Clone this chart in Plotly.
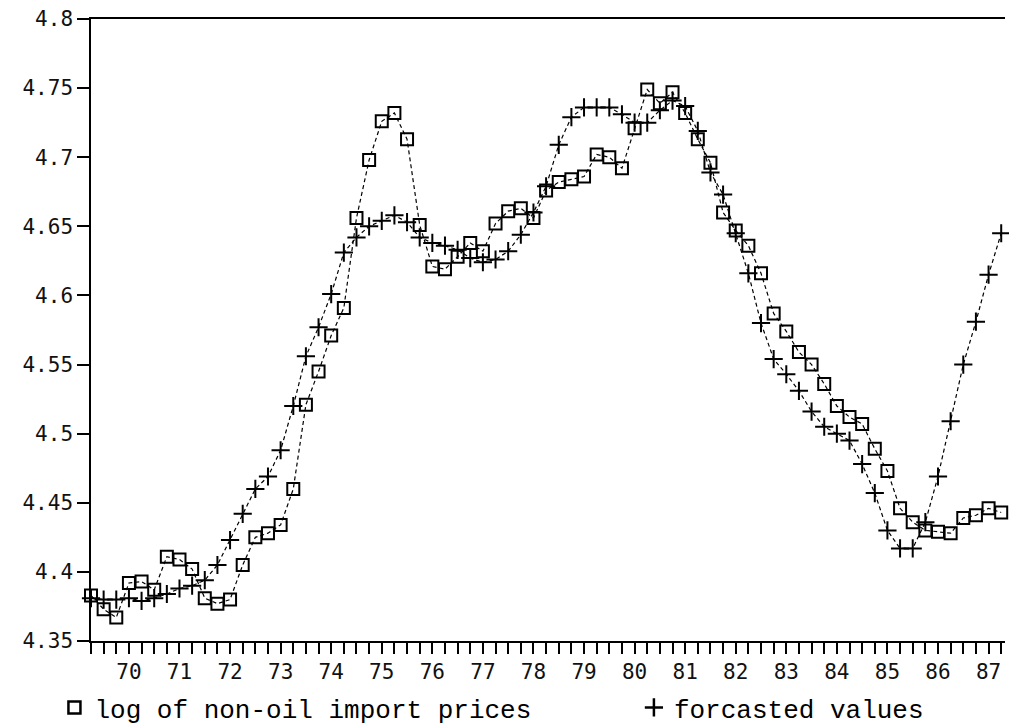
import plotly.graph_objects as go

# quarters 1969Q2 .. 1987Q2
quarters = [f"{y}Q{q}" for y in range(1969, 1988) for q in range(1, 5)][1:74]

year_labels = ["70", "71", "72", "73", "74", "75", "76", "77", "78",
               "79", "80", "81", "82", "83", "84", "85", "86", "87"]

actual = [4.383, 4.373, 4.367, 4.392, 4.393, 4.387, 4.411, 4.409, 4.402, 4.381,
          4.377, 4.380, 4.405, 4.425, 4.428, 4.434, 4.460, 4.521, 4.545, 4.571,
          4.591, 4.656, 4.698, 4.726, 4.732, 4.713, 4.651, 4.621, 4.619,
          4.628, 4.638, 4.632, 4.652, 4.661, 4.663, 4.656, 4.676, 4.682, 4.684,
          4.686, 4.702, 4.700, 4.692, 4.721, 4.749, 4.739, 4.747, 4.732, 4.713,
          4.696, 4.660,
          4.647, 4.636, 4.616, 4.587, 4.574, 4.559, 4.550, 4.536, 4.520, 4.512,
          4.507, 4.489,
          4.473, 4.446, 4.436, 4.430, 4.429, 4.428, 4.439, 4.441, 4.446, 4.443]

forecast = [4.381, 4.380, 4.380, 4.381, 4.379, 4.381, 4.384, 4.388, 4.390, 4.394,
            4.405, 4.423,
            4.442, 4.460, 4.469, 4.488, 4.520,
            4.556, 4.577, 4.601, 4.631, 4.642, 4.650, 4.654, 4.658, 4.653, 4.642,
            4.638, 4.636,
            4.633, 4.627, 4.624, 4.626, 4.632, 4.644, 4.660, 4.679, 4.709, 4.729,
            4.736, 4.736, 4.736, 4.731, 4.725, 4.725, 4.734, 4.741, 4.737, 4.719,
            4.689, 4.673,
            4.645, 4.616, 4.580, 4.554, 4.543, 4.531, 4.516, 4.505, 4.500, 4.495,
            4.478, 4.457,
            4.430, 4.417, 4.417, 4.436, 4.469, 4.509, 4.550, 4.581, 4.615, 4.645]

y_ticks = [4.35, 4.4, 4.45, 4.5, 4.55, 4.6, 4.65, 4.7, 4.75, 4.8]
y_ticktext = ["4.35", "4.4", "4.45", "4.5", "4.55", "4.6", "4.65", "4.7", "4.75", "4.8"]

x_ticktext = []
for qname in quarters:
    if qname.endswith("Q1"):
        x_ticktext.append(year_labels[int(qname[:4]) - 1970])
    else:
        x_ticktext.append("")

fig = go.Figure()

fig.add_trace(go.Scatter(
    x=quarters, y=actual, mode="lines+markers",
    line=dict(color="black", width=1.2, dash="4px,3px"),
    marker=dict(symbol="square-open", size=12, color="black",
                line=dict(width=2, color="black")),
    cliponaxis=False, showlegend=False,
))
fig.add_trace(go.Scatter(
    x=quarters, y=forecast, mode="lines+markers",
    line=dict(color="black", width=1.2, dash="4px,3px"),
    marker=dict(symbol="cross-thin", size=13, color="black",
                line=dict(width=2, color="black")),
    cliponaxis=False, showlegend=False,
))

# legend-only entries
fig.add_trace(go.Scatter(
    x=[None], y=[None], mode="markers", name="log of non-oil import prices",
    marker=dict(symbol="square-open", size=12, color="black",
                line=dict(width=2.5, color="black")),
    legend="legend",
))
fig.add_trace(go.Scatter(
    x=[None], y=[None], mode="markers", name="forcasted values",
    marker=dict(symbol="cross-thin", size=13, color="black",
                line=dict(width=2.5, color="black")),
    legend="legend2",
))

legend_font = dict(family="Liberation Mono, Courier New, monospace", size=26, color="black")

# page body adds an 8px offset; figure sized to fit inside the 1017x728 window
fig.update_layout(
    width=1009, height=720,
    margin=dict(l=83, r=12, t=11, b=87, autoexpand=False),
    paper_bgcolor="white", plot_bgcolor="white",
    font=dict(family="DejaVu Sans Mono, monospace", size=21, color="#111"),
    legend=dict(x=-0.04, y=-0.107, xanchor="left", yanchor="middle",
                orientation="h", font=legend_font, itemwidth=30,
                bgcolor="rgba(0,0,0,0)", borderwidth=0),
    legend2=dict(x=0.594, y=-0.107, xanchor="left", yanchor="middle",
                 orientation="h", font=legend_font, itemwidth=30,
                 bgcolor="rgba(0,0,0,0)", borderwidth=0),
)

fig.update_xaxes(
    type="category", categoryorder="array", categoryarray=quarters,
    range=[0, 72.3], automargin=False, ticklabeloverflow="allow",
    tickmode="array", tickvals=quarters, ticktext=x_ticktext,
    ticks="outside", ticklen=11, tickwidth=1.5, tickcolor="black",
    showline=True, linecolor="black", linewidth=1.5, mirror=True,
    showgrid=False, zeroline=False,
    tickfont=dict(family="DejaVu Sans Mono, monospace", size=21, color="#111"),
)
fig.update_yaxes(
    range=[4.35, 4.8], automargin=False, ticklabeloverflow="allow",
    tickmode="array", tickvals=y_ticks, ticktext=y_ticktext,
    ticks="outside", ticklen=12, tickwidth=1.5, tickcolor="black",
    showline=True, linecolor="black", linewidth=1.5,
    showgrid=False, zeroline=False,
    tickfont=dict(family="DejaVu Sans Mono, monospace", size=21, color="#111"),
)

fig.write_html("out.html")
